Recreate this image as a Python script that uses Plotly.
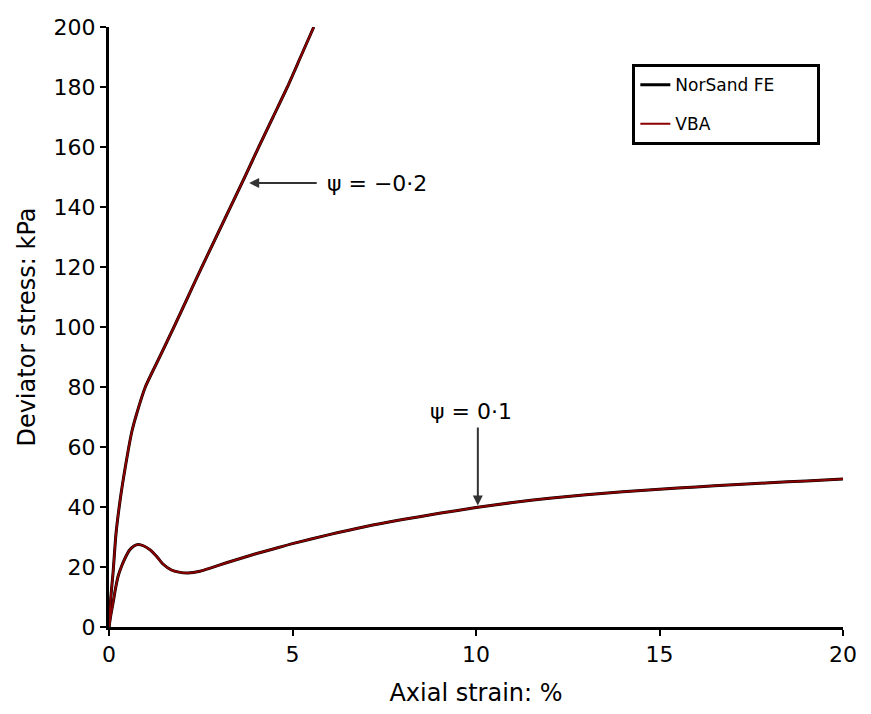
import plotly.graph_objects as go

# psi = -0.2 curve
strain_dense = [0, 0.05, 0.11, 0.19, 0.3, 0.44, 0.62, 0.74, 0.99, 1.38, 1.77, 2.15, 2.53, 2.92,
                3.31, 3.7, 4.08, 4.47, 4.86, 5.22, 5.58]
stress_dense = [0, 10, 18, 31, 42, 53, 65, 70.5, 80, 90, 100, 110, 120, 130,
                140, 150, 160, 170, 180, 190, 200]

# psi = 0.1 curve
strain_loose = [0, 0.05, 0.11, 0.18, 0.25, 0.35, 0.44, 0.55, 0.68, 0.8, 0.95, 1.12, 1.3, 1.47,
                1.7, 1.9, 2.15, 2.48, 2.8, 3.2, 3.6, 4.0, 4.5, 5.0, 6.0, 7.0, 8.0, 9.0, 10,
                11, 12, 13, 14, 15, 16, 17, 18, 19, 20]
stress_loose = [0, 4, 8, 13, 17, 20.5, 23, 25.5, 27, 27.5, 27, 25.7, 23.5, 21,
                19, 18.3, 18, 18.6, 19.8, 21.4, 22.9, 24.4, 26.1, 27.8, 30.8, 33.5, 35.8, 37.9, 39.8,
                41.5, 42.9, 44.1, 45.1, 45.9, 46.7, 47.4, 48.1, 48.7, 49.3]

FONT = "DejaVu Sans"
NBSP = "\u00a0"
fig = go.Figure()

for i, (xs, ys) in enumerate([(strain_dense, stress_dense), (strain_loose, stress_loose)]):
    fig.add_trace(go.Scatter(x=xs, y=ys, mode="lines", name="NorSand FE" + NBSP * 7,
                             legendgroup="fe",
                             line=dict(color="black", width=3, shape="spline", smoothing=0.6),
                             showlegend=(i == 0), legendrank=1))
for i, (xs, ys) in enumerate([(strain_dense, stress_dense), (strain_loose, stress_loose)]):
    fig.add_trace(go.Scatter(x=xs, y=ys, mode="lines", name="VBA", legendgroup="vba",
                             line=dict(color="#8b0000", width=2, shape="spline", smoothing=0.6),
                             showlegend=(i == 0), legendrank=2))

fig.add_annotation(x=3.82, y=148, ax=5.7, ay=148, xref="x", yref="y", axref="x", ayref="y",
                   showarrow=True, arrowhead=2, arrowsize=1, arrowwidth=2, arrowcolor="#333333", text="")
fig.add_annotation(x=7.3, y=148, xref="x", yref="y", showarrow=False,
                   text="ψ = −0·2", font=dict(family=FONT, size=22, color="black"))
fig.add_annotation(x=10.05, y=40.5, ax=10.05, ay=67, xref="x", yref="y", axref="x", ayref="y",
                   showarrow=True, arrowhead=2, arrowsize=1, arrowwidth=2, arrowcolor="#333333", text="")
fig.add_annotation(x=9.85, y=72, xref="x", yref="y", showarrow=False,
                   text="ψ = 0·1", font=dict(family=FONT, size=22, color="black"))

fig.update_layout(
    width=871, height=714,
    margin=dict(l=109, r=28, t=27, b=87),
    plot_bgcolor="white", paper_bgcolor="white",
    font=dict(family=FONT, size=22, color="black"),
    legend=dict(x=0.713, y=0.938, xanchor="left", yanchor="top",
                bordercolor="black", borderwidth=3, bgcolor="white",
                font=dict(family=FONT, size=17), traceorder="grouped",
                tracegroupgap=14, itemwidth=30),
    xaxis=dict(range=[0, 20], tickvals=[0, 5, 10, 15, 20], showline=True, linecolor="black",
               linewidth=3, ticks="outside", ticklen=6, tickwidth=2, tickcolor="black",
               showgrid=False, zeroline=False,
               title=dict(text="Axial strain: %", font=dict(size=24), standoff=18)),
    yaxis=dict(range=[0, 200], tickvals=list(range(0, 201, 20)), showline=True, linecolor="black",
               linewidth=3, ticks="outside", ticklen=6, tickwidth=2, tickcolor="black",
               showgrid=False, zeroline=False,
               title=dict(text="Deviator stress: kPa", font=dict(size=24), standoff=12)),
)

fig.write_html("out.html")
